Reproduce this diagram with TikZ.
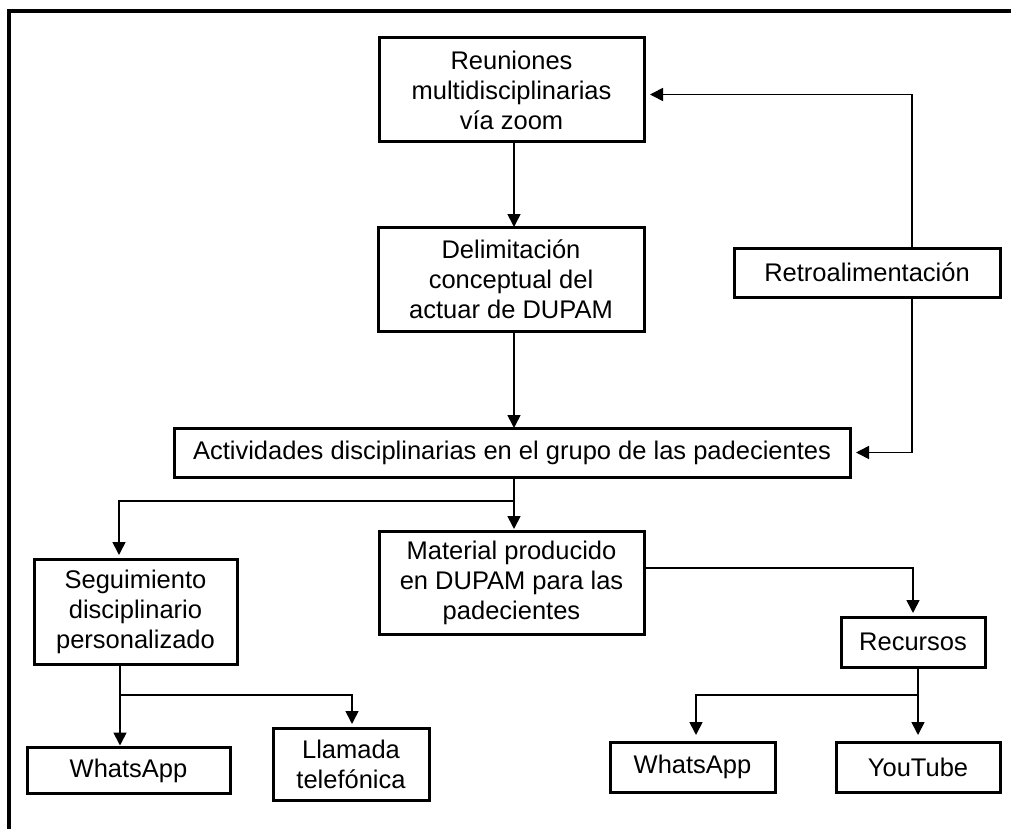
\documentclass[tikz,border=0pt]{standalone}
\usepackage{fontspec}
\setmainfont{Liberation Sans}
\usetikzlibrary{arrows.meta}
\begin{document}
\begin{tikzpicture}[x=1pt,y=-1pt,
  box/.style={draw, line width=3pt, align=center, inner sep=0pt, outer sep=0pt,
    font=\fontsize{25.5}{30}\selectfont},
  link/.style={line width=1.7pt, -{Triangle[length=13pt,width=13pt]}},
  plain/.style={line width=1.7pt},
  frame/.style={line width=3.2pt}]
\useasboundingbox (0,0) rectangle (1011,829);
% outer frame
\draw[frame] (1030,11) -- (9,11) -- (9,850);

% boxes
\node[box, minimum width=265pt, minimum height=104pt] (reu) at (511.5,90)
  {Reuniones\\multidisciplinarias\\vía zoom};
\node[box, minimum width=266pt, minimum height=104pt] (del) at (511,279)
  {Delimitación\\conceptual del\\actuar de DUPAM};
\node[box, minimum width=266pt, minimum height=49pt] (ret) at (867,272.5)
  {Retroalimentación};
\node[box, minimum width=676pt, minimum height=49pt] (act) at (512,452.5)
  {Actividades disciplinarias en el grupo de las padecientes};
\node[box, minimum width=203pt, minimum height=105pt] (seg) at (135.5,611.5)
  {Seguimiento\\disciplinario\\personalizado};
\node[box, minimum width=265pt, minimum height=103pt] (mat) at (511.5,582.5)
  {Material producido\\en DUPAM para las\\padecientes};
\node[box, minimum width=144pt, minimum height=50pt] (rec) at (913,642)
  {Recursos};
\node[box, minimum width=203pt, minimum height=46pt] (wa1) at (128.5,770.5)
  {WhatsApp};
\node[box, minimum width=156pt, minimum height=72pt] (lla) at (351,764)
  {Llamada\\telefónica};
\node[box, minimum width=165pt, minimum height=50pt] (wa2) at (692.5,767)
  {WhatsApp};
\node[box, minimum width=164pt, minimum height=50pt] (you) at (918,767)
  {YouTube};

% branching points
\coordinate (j1) at (514,501);
\coordinate (j2) at (120,695);
\coordinate (j3) at (918,695);

% main chain
\draw[link] (reu.south -| j1) -- (del.north -| j1);
\draw[link] (del.south -| j1) -- (act.north -| j1);

% feedback loop
\draw[link, shorten >=6pt] ([xshift=45pt]ret.north) |- ([yshift=-4.5pt]reu.east);
\draw[link, shorten >=6pt] ([xshift=45pt]ret.south) |- (act.east);

% activities split
\draw[plain] (act.south -| j1) -- (j1);
\draw[link, shorten >=2pt] (j1) -- (j1 |- mat.north);
\draw[link, shorten >=4pt] (j1) -| ([xshift=-16.5pt]seg.north);

% follow-up split
\draw[plain] (seg.south -| j2) -- (j2);
\draw[link, shorten >=2pt] (j2) -- (j2 |- wa1.north);
\draw[link, shorten >=4pt] (j2) -| ([xshift=1pt]lla.north);

% material to resources
\draw[link, shorten >=4pt] ([yshift=14.5pt]mat.east) -| (rec.north);
\draw[plain] (rec.south -| j3) -- (j3);
\draw[link, shorten >=7pt] (j3) -- (j3 |- you.north);
\draw[link, shorten >=7pt] (j3) -| ([xshift=3.5pt]wa2.north);
\end{tikzpicture}
\end{document}
